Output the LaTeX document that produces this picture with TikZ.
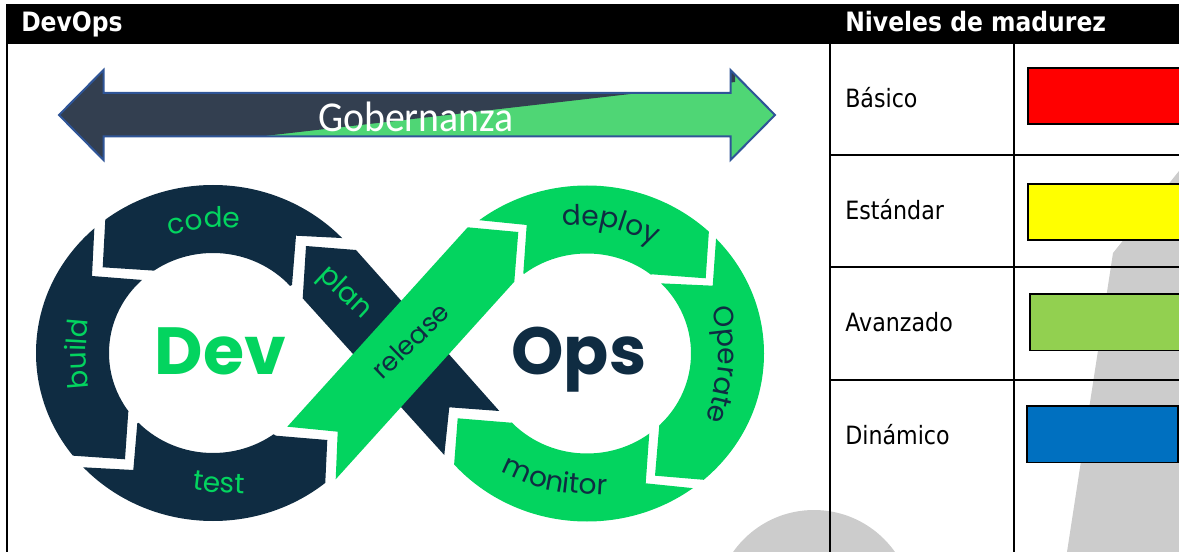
\documentclass[tikz,border=0pt]{standalone}
\usepackage{fontspec}
\usetikzlibrary{decorations.text}
\setmainfont{DejaVu Sans}[FakeStretch=0.88]
\newfontfamily\logofont{Poppins}[Scale=1]
\newfontfamily\govfont{Carlito}
\definecolor{logodark}{HTML}{0F2C42}
\definecolor{logogreen}{HTML}{03D45F}
\definecolor{govdark}{HTML}{333F50}
\definecolor{govgreen}{HTML}{4FD675}
\definecolor{govline}{HTML}{2F5597}
\definecolor{sheetgrey}{HTML}{CCCCCC}
\definecolor{levelred}{HTML}{FF0000}
\definecolor{levelyellow}{HTML}{FFFF00}
\definecolor{levelgreen}{HTML}{92D050}
\definecolor{levelblue}{HTML}{0070C0}
\tikzset{
  rule/.style={black,line width=1.5pt},
  levelbox/.style={draw=black,line width=1.3pt},
  cell/.style={anchor=base west,inner sep=0pt,font=\fontsize{18.9}{20}\selectfont,text=black},
  headtext/.style={anchor=base west,inner sep=0pt,font=\fontsize{20}{22}\selectfont\bfseries,text=white},
  bigword/.style={anchor=base,inner sep=0pt,font=\logofont\fontsize{50}{55}\selectfont\bfseries},
}
\newcommand{\devring}{\fill[logodark,even odd rule] (213,353) ellipse [x radius=132.75pt,y radius=126pt] (213,353) ellipse [x radius=78pt,y radius=75pt];}
\newcommand{\opsring}{\fill[logogreen,even odd rule] (587,353.5) ellipse [x radius=132.75pt,y radius=126pt] (587,353.5) ellipse [x radius=78pt,y radius=75pt];}
\newcommand{\curvelabel}[4][21]{\path[decorate,decoration={text along path,text align=center,text={|\logofont\fontsize{#1}{24}\selectfont\color{#2}|#3}}] #4;}
\begin{document}
\begin{tikzpicture}[x=0.75pt,y=-0.75pt]
\useasboundingbox (0,0) rectangle (1179,552);
\clip (0,0) rectangle (1179,552);
% grey background shapes
\fill[sheetgrey] (1179,171) -- (1113,253) -- (1067,552) -- (1179,552) -- cycle;
\fill[sheetgrey] (814,609) circle [radius=74.25pt];
% table
\fill[black] (6,4) rectangle (1179,44);
\draw[rule] (7,44) -- (7,552);
\draw[rule] (830,44) -- (830,552);
\draw[rule] (1014,44) -- (1014,552);
\draw[rule] (830,155) -- (1179,155);
\draw[rule] (830,267.5) -- (1179,267.5);
\draw[rule] (830,380) -- (1179,380);
\node[headtext] (hdev) at (21,31.5) {DevOps};
\node[headtext] (hniv) at (845,31.5) {Niveles de madurez};
\node[cell] (basico) at (845,107.5) {Básico};
\node[cell] (estandar) at (845,220) {Estándar};
\node[cell] (avanzado) at (845,332) {Avanzado};
\node[cell] (dinamico) at (845,444.5) {Dinámico};
\draw[levelbox,fill=levelred] (1028,68) rectangle (1190,124);
\draw[levelbox,fill=levelyellow] (1028,184) rectangle (1190,240);
\draw[levelbox,fill=levelgreen] (1030,294) rectangle (1190,350.5);
\draw[levelbox,fill=levelblue] (1027,406) rectangle (1178,462.5);
% governance arrow
\begin{scope}
\clip (59,115) -- (103.5,70) -- (103.5,93) -- (730.5,93) -- (730.5,70) -- (775,115) -- (730.5,160) -- (730.5,136.5) -- (103.5,136.5) -- (103.5,160) -- cycle;
\fill[govgreen] (50,60) rectangle (785,170);
\fill[govdark] (50,60) -- (50,170) -- (230,170) -- (260,136.5) -- (735,82) -- (735,60) -- cycle;
\end{scope}
\draw[govline,line width=1.5pt,line join=miter] (59,115) -- (103.5,70) -- (103.5,93) -- (730.5,93) -- (730.5,70) -- (775,115) -- (730.5,160) -- (730.5,136.5) -- (103.5,136.5) -- (103.5,160) -- cycle;
\node[inner sep=0pt,anchor=base,text=white,font=\govfont\fontsize{29}{32}\selectfont,xscale=1.03,yscale=1.1,transform shape] (gob) at (416,131.5) {Gobernanza};
% Dev ring
\begin{scope}\clip (102.7,267.3) -- (108,170) -- (400,170) -- (400,241) -- (296,235.7) -- (292,285) -- (213,320) -- (155,270.7) -- cycle; \devring\end{scope}
\begin{scope}\clip (94.3,229.3) -- (97,180) -- (20,180) -- (20,452) -- (73.3,455.7) -- (125,459.3) -- (128.3,411.7) -- (213,353) -- (142.7,280) -- (92,276) -- cycle; \devring\end{scope}
\begin{scope}\clip (83.3,467.3) -- (40,465) -- (40,540) -- (322,540) -- (325,488.3) -- (327.3,440) -- (276,435.7) -- (213,400) -- (137.3,423.3) -- (133.3,470) -- cycle; \devring\end{scope}
% plan band
\fill[logodark] (306,246) -- (356,250) -- (449,354.3) -- (499.3,411) -- (449.3,407.3) -- (444.3,455) -- (302.7,298.3) -- cycle;
% Ops ring
\begin{scope}\clip (420,214) -- (420,170) -- (713,170) -- (709,230) -- (705.7,278.3) -- (651.7,274.3) -- (587,320) -- (523.3,273.3) -- (526.7,225) -- (477.3,220) -- cycle; \opsring\end{scope}
\begin{scope}\clip (716,239.3) -- (720,180) -- (790,180) -- (790,487) -- (706,480) -- (655,475.7) -- (659.3,425) -- (587,353) -- (660,283.3) -- (712.7,285.7) -- cycle; \opsring\end{scope}
\begin{scope}\clip (454,466) -- (448,540) -- (760,540) -- (760,495) -- (694.3,488.3) -- (645.7,483.3) -- (649.3,433.3) -- (587,400) -- (511,422.7) -- (457.7,418.3) -- cycle; \opsring\end{scope}
% release band
\fill[logogreen] (467.7,227.3) -- (518.3,232) -- (514.3,281.7) -- (335.7,479.3) -- (337.7,431.7) -- (287.3,426.7) -- cycle;
% logo words
\node[bigword,text=logogreen] (dev) at (220.5,375) {Dev};
\node[bigword,text=logodark] (ops) at (579,375) {Ops};
\curvelabel{logogreen}{code}{(168,235.5) .. controls (205,227) .. (242,228.5)}
\curvelabel{logogreen}{build}{(89,398) .. controls (85,353) .. (89,310)}
\curvelabel{logogreen}{test}{(185,489) .. controls (218,493) .. (252,494)}
\curvelabel{logogreen}{plan}{(312,272) -- (368,324)}
\curvelabel[19.5]{logodark}{release}{(372,391) -- (462,304)}
\curvelabel{logodark}{deploy}{(553,226) .. controls (607,224) .. (663,248)}
\curvelabel{logodark}{Operate}{(711,298) .. controls (722,360) .. (704,430)}
\curvelabel{logodark}{monitor}{(494,468) .. controls (545,492) .. (615,496)}
\end{tikzpicture}
\end{document}
